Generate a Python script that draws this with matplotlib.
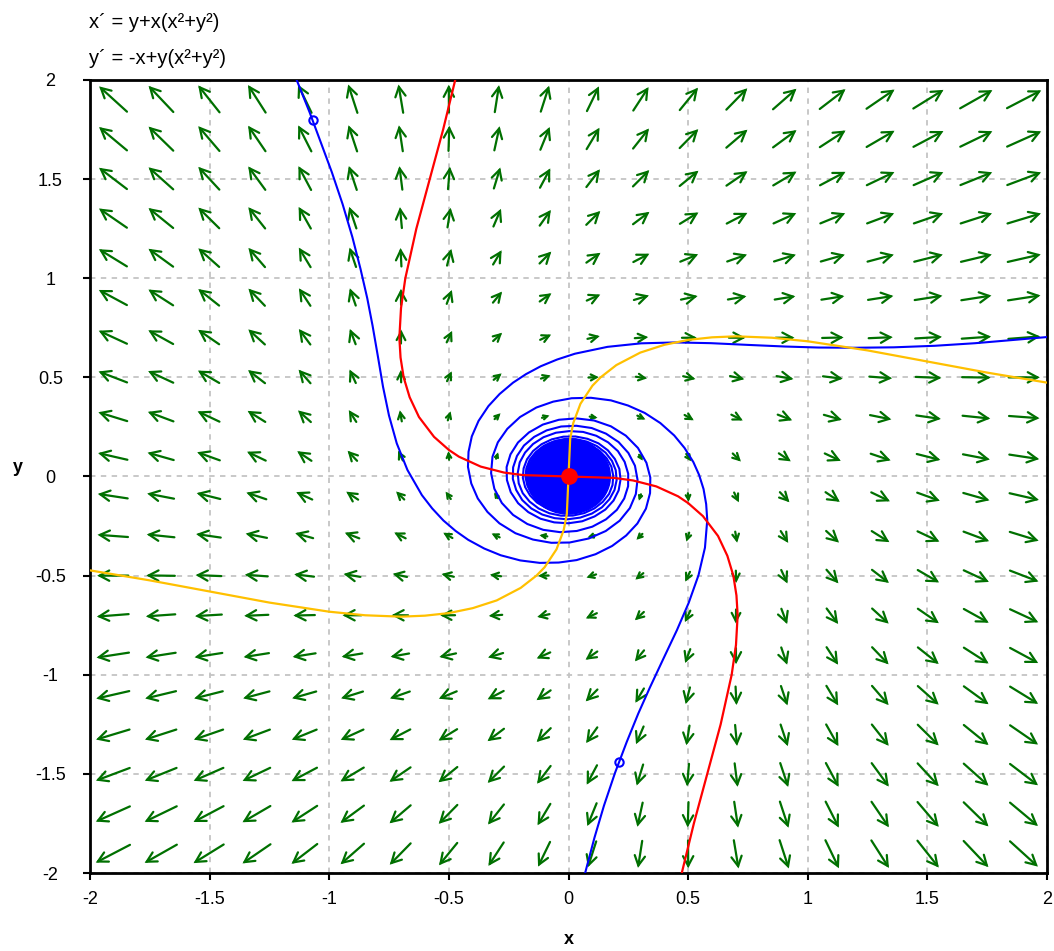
import numpy as np
import matplotlib
matplotlib.use("Agg")
import matplotlib.pyplot as plt
from matplotlib.collections import LineCollection
from matplotlib.patches import Ellipse

plt.rcParams['font.family'] = ['Liberation Sans', 'DejaVu Sans']
plt.rcParams['axes.unicode_minus'] = False

# --- Data ---
eq_labels = ["x\u00b4 = y+x(x\u00b2+y\u00b2)", "y\u00b4 = -x+y(x\u00b2+y\u00b2)"]
tick_values = [-2, -1.5, -1, -0.5, 0, 0.5, 1, 1.5, 2]
tick_labels = ["-2", "-1.5", "-1", "-0.5", "0", "0.5", "1", "1.5", "2"]

# centres of the direction-field arrows
field_x = [-1.9, -1.7, -1.5, -1.3, -1.1, -0.9, -0.7, -0.5, -0.3, -0.1,
           0.1, 0.3, 0.5, 0.7, 0.9, 1.1, 1.3, 1.5, 1.7, 1.9]
field_y = [-1.9, -1.7, -1.5, -1.3, -1.1, -0.9, -0.7, -0.5, -0.3, -0.1,
           0.1, 0.3, 0.5, 0.7, 0.9, 1.1, 1.3, 1.5, 1.7, 1.9]

traj_radius = [2.45, 2.30, 2.132, 2.0, 1.826, 1.667, 1.508, 1.361, 1.231, 1.118,
               1.0, 0.898, 0.811, 0.737, 0.674, 0.620, 0.592, 0.568, 0.546, 0.527,
               0.506, 0.488, 0.469, 0.452, 0.436, 0.423, 0.408, 0.395, 0.383, 0.373,
               0.362, 0.351, 0.342, 0.333, 0.324, 0.316, 0.309, 0.302, 0.295, 0.289,
               0.283, 0.277, 0.272, 0.267, 0.263, 0.258, 0.254, 0.250, 0.246, 0.243,
               0.239, 0.236, 0.233, 0.229, 0.227, 0.224, 0.221, 0.218, 0.216, 0.213,
               0.211, 0.209, 0.206, 0.204, 0.202, 0.200, 0.198, 0.196, 0.194, 0.192,
               0.191, 0.189, 0.187, 0.186, 0.184, 0.183, 0.181, 0.180, 0.178, 0.177]
traj_angle_a = [119.0, 119.6, 120.5, 121.4, 122.8, 124.5, 126.8, 129.7, 133.1, 137.1,
                142.8, 149.7, 157.7, 166.9, 177.2, 188.7, 195.8, 203.0, 210.2, 217.3,
                225.9, 234.5, 244.5, 254.6, 264.6, 274.6, 286.1, 297.5, 309.0, 320.5,
                333.4, 346.2, 359.1, 372.0, 386.4, 400.7, 415.0, 429.3, 443.7, 458.0,
                472.3, 486.6, 500.9, 515.3, 529.6, 543.9, 558.2, 572.6, 586.9, 601.2,
                615.5, 629.9, 644.2, 658.5, 672.8, 687.2, 701.5, 715.8, 730.1, 744.5,
                758.8, 773.1, 787.4, 801.7, 816.1, 830.4, 844.7, 859.0, 873.4, 887.7,
                902.0, 916.3, 930.7, 945.0, 959.3, 973.6, 988.0, 1002.3, 1016.6, 1030.9]
traj_angle_b = [-90.4, -89.8, -88.9, -88.0, -86.6, -84.9, -82.6, -79.7, -76.3, -72.3,
                -66.6, -59.7, -51.7, -42.5, -32.2, -20.7, -13.6, -6.4, 0.8, 7.9,
                16.5, 25.1, 35.1, 45.2, 55.2, 65.2, 76.7, 88.1, 99.6, 111.1,
                124.0, 136.8, 149.7, 162.6, 177.0, 191.3, 205.6, 219.9, 234.3, 248.6,
                262.9, 277.2, 291.5, 305.9, 320.2, 334.5, 348.8, 363.2, 377.5, 391.8,
                406.1, 420.5, 434.8, 449.1, 463.4, 477.8, 492.1, 506.4, 520.7, 535.1,
                549.4, 563.7, 578.0, 592.3, 606.7, 621.0, 635.3, 649.6, 664.0, 678.3,
                692.6, 706.9, 721.3, 735.6, 749.9, 764.2, 778.6, 792.9, 807.2, 821.5]
traj_angle_c = [17.8, 18.4, 19.3, 20.2, 21.6, 23.3, 25.6, 28.5, 31.9, 35.9,
                41.6, 48.5, 56.5, 65.7, 76.0, 87.5, 94.6, 101.8, 109.0, 116.1,
                124.7, 133.3, 143.3, 153.4, 163.4, 173.4, 184.9, 196.3, 207.8, 219.3,
                232.2, 245.0, 257.9, 270.8, 285.2, 299.5, 313.8, 328.1, 342.5, 356.8,
                371.1, 385.4, 399.7, 414.1, 428.4, 442.7, 457.0, 471.4, 485.7, 500.0,
                514.3, 528.7, 543.0, 557.3, 571.6, 586.0, 600.3, 614.6, 628.9, 643.3,
                657.6, 671.9, 686.2, 700.5, 714.9, 729.2, 743.5, 757.8, 772.2, 786.5,
                800.8, 815.1, 829.5, 843.8, 858.1, 872.4, 886.8, 901.1, 915.4, 929.7]
core_rx, core_ry = 0.175, 0.19      # solid blue core of the spirals
start_x = [-1.07, 0.21]             # initial points (open circles)
start_y = [1.80, -1.44]

# nullclines x'=0 (red) and y'=0 (orange)
null_x_x = [-0.4735, -0.524, -0.58, -0.636, -0.682, -0.700, -0.707, -0.702, -0.689, -0.664,
            -0.625, -0.562, -0.50, -0.458, -0.367, -0.27, -0.19, 0.0, 0.19, 0.27,
            0.367, 0.458, 0.50, 0.562, 0.625, 0.664, 0.689, 0.702, 0.707, 0.700,
            0.682, 0.636, 0.58, 0.524, 0.4735]
null_x_y = [2.0, 1.75, 1.5, 1.25, 1.0, 0.85, 0.7, 0.6, 0.5, 0.4,
            0.3, 0.2, 0.134, 0.1, 0.05, 0.02, 0.007, 0.0, -0.007, -0.02,
            -0.05, -0.1, -0.134, -0.2, -0.3, -0.4, -0.5, -0.6, -0.7, -0.85,
            -1.0, -1.25, -1.5, -1.75, -2.0]
null_y_x = [-2.0, -1.75, -1.5, -1.25, -1.0, -0.85, -0.7, -0.6, -0.5, -0.4,
            -0.3, -0.2, -0.134, -0.1, -0.05, -0.02, -0.007, 0.0, 0.007, 0.02,
            0.05, 0.1, 0.134, 0.2, 0.3, 0.4, 0.5, 0.6, 0.7, 0.85,
            1.0, 1.25, 1.5, 1.75, 2.0]
null_y_y = [-0.4735, -0.524, -0.58, -0.636, -0.682, -0.700, -0.707, -0.702, -0.689, -0.664,
            -0.625, -0.562, -0.50, -0.458, -0.367, -0.27, -0.19, 0.0, 0.19, 0.27,
            0.367, 0.458, 0.50, 0.562, 0.625, 0.664, 0.689, 0.702, 0.707, 0.700,
            0.682, 0.636, 0.58, 0.524, 0.4735]

# --- Figure ---
fig = plt.figure(figsize=(10.54, 9.51), dpi=100)
ax = fig.add_axes([90 / 1054, 78 / 951, 957 / 1054, 793 / 951])
ax.set_xlim(-2, 2)
ax.set_ylim(-2, 2)

# pixels per data unit
ppx = ax.bbox.width / 4.0
ppy = ax.bbox.height / 4.0

# direction field from the system shown at the top
X, Y = np.meshgrid(field_x, field_y)
R2 = X ** 2 + Y ** 2
U = Y + X * R2
V = -X + Y * R2
su, sv = U, V * 0.687          # on-screen direction like the original tool
mag = np.hypot(su, sv)
L = 9.5 * np.log1p(mag / 0.4)  # log-scaled arrow length in pixels
du, dv = su / mag, sv / mag
head = np.minimum(11.0, 0.8 * L)
ang = np.radians(28)

segs = []
for cx, cy, l, ux, uy, h in zip(X.ravel(), Y.ravel(), L.ravel(), du.ravel(), dv.ravel(), head.ravel()):
    tx, ty = -ux * l / 2, -uy * l / 2
    hx, hy = ux * l / 2, uy * l / 2
    bx1 = hx - h * (ux * np.cos(ang) - uy * np.sin(ang))
    by1 = hy - h * (uy * np.cos(ang) + ux * np.sin(ang))
    bx2 = hx - h * (ux * np.cos(ang) + uy * np.sin(ang))
    by2 = hy - h * (uy * np.cos(ang) - ux * np.sin(ang))
    segs.append([(cx + tx / ppx, cy + ty / ppy), (cx + hx / ppx, cy + hy / ppy)])
    segs.append([(cx + bx1 / ppx, cy + by1 / ppy), (cx + hx / ppx, cy + hy / ppy),
                 (cx + bx2 / ppx, cy + by2 / ppy)])
ax.add_collection(LineCollection(segs, colors='#007000', linewidths=1.6,
                                 capstyle='round', joinstyle='miter', zorder=2))

# trajectories
r = np.array(traj_radius)
for angles in (traj_angle_a, traj_angle_b, traj_angle_c):
    t = np.radians(angles)
    ax.plot(r * np.cos(t), r * np.sin(t), color='#0000ff', lw=1.5, zorder=3)
ax.add_patch(Ellipse((0, 0), 2 * core_rx, 2 * core_ry, color='#0000ff', zorder=3))
ax.plot(start_x, start_y, 'o', ms=6, mfc='none', mec='#0000ff', mew=1.5, zorder=5)

# nullclines
ax.plot(null_x_x, null_x_y, color='#ff0000', lw=1.6, zorder=4)
ax.plot(null_y_x, null_y_y, color='#ffc000', lw=1.6, zorder=4)
ax.plot([0], [0], 'o', ms=11, color='#ff0000', zorder=6)

# axes styling
ax.set_xticks(tick_values)
ax.set_xticklabels(tick_labels)
ax.set_yticks(tick_values)
ax.set_yticklabels(tick_labels)
ax.grid(True, color='#c4c4c4', linestyle=(0, (3, 3)), linewidth=1.3, zorder=0)
ax.set_axisbelow(True)
for s in ax.spines.values():
    s.set_linewidth(2)
ax.tick_params(direction='out', length=5, width=1.5, labelsize=13)
ax.tick_params(axis='y', pad=23.5)
ax.tick_params(axis='x', pad=8)
for lab in ax.get_yticklabels():
    lab.set_horizontalalignment('center')

ax.set_xlabel('x', fontsize=13, fontweight='bold', va='center')
ax.xaxis.set_label_coords(0.5, -67 / 793)
ax.set_ylabel('y', fontsize=13, fontweight='bold', rotation=0, va='center', ha='center')
ax.yaxis.set_label_coords(-72 / 957, 405 / 793)

fig.text(89 / 1054, 1 - 23 / 951, eq_labels[0], fontsize=14.5, va='center', ha='left')
fig.text(89 / 1054, 1 - 59 / 951, eq_labels[1], fontsize=14.5, va='center', ha='left')

fig.savefig('out.png', dpi=100)
